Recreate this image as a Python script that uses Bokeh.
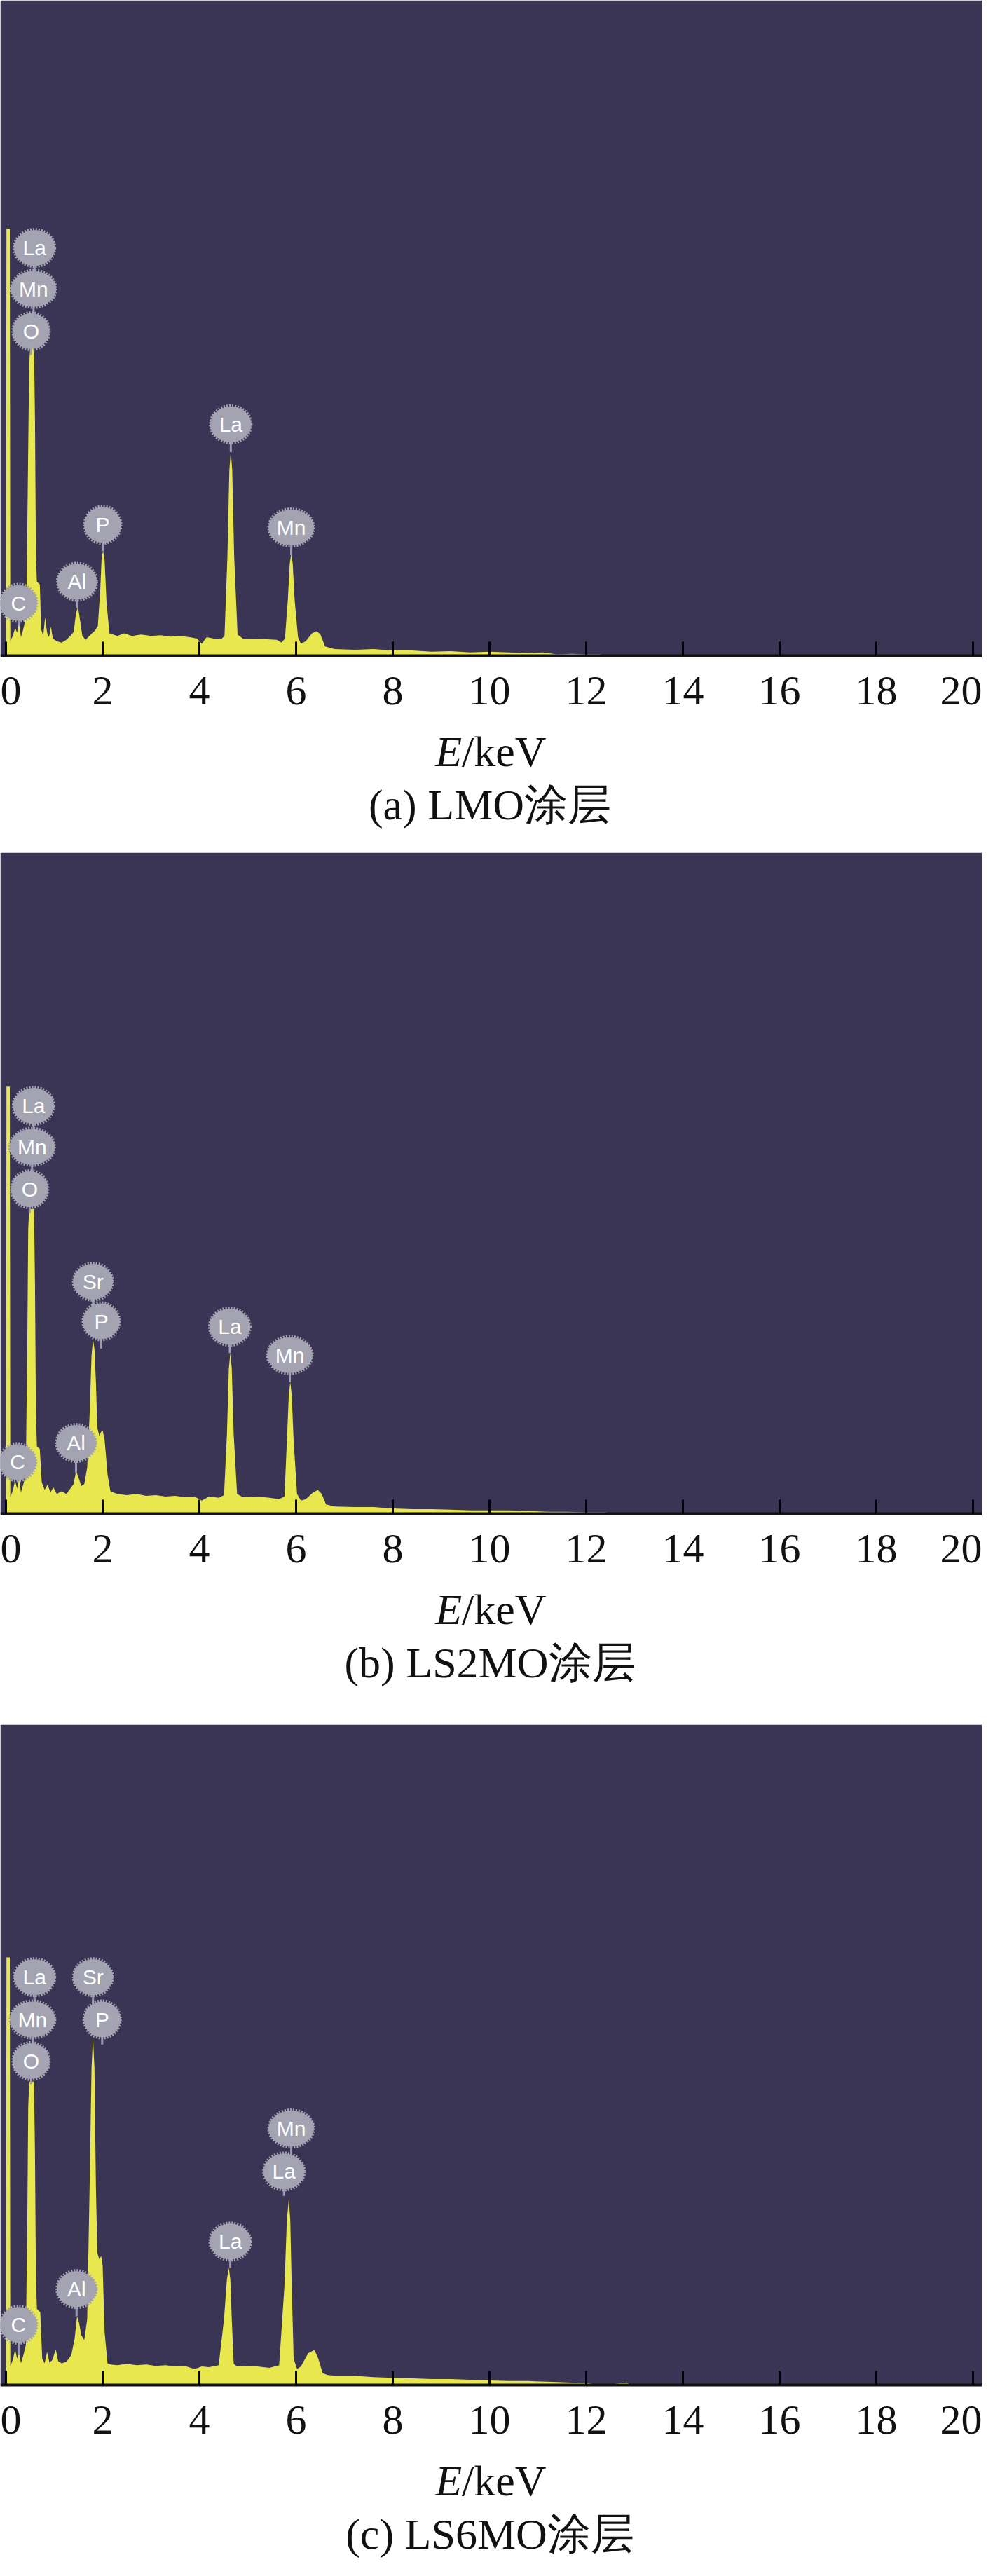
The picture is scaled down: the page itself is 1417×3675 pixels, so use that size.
from bokeh.plotting import figure
from bokeh.models import Range1d, FixedTicker, ColumnDataSource, BoxAnnotation
from bokeh.layouts import column
from bokeh.embed import file_html
from bokeh.resources import INLINE
from bokeh.core.properties import value

# ---------------- data ----------------
x_ticks = [0, 2, 4, 6, 8, 10, 12, 14, 16, 18, 20]

energy_a = [0.00, 0.01, 0.08, 0.09, 0.14, 0.19, 0.23, 0.27, 0.31, 0.35, 0.42, 0.45, 0.48, 0.50, 0.58, 0.60,
            0.62, 0.64, 0.70, 0.73, 0.77, 0.81, 0.85, 0.89, 0.93, 0.97, 1.05, 1.15, 1.25, 1.33, 1.40, 1.45,
            1.49, 1.53, 1.58, 1.65, 1.75, 1.84, 1.90, 1.95, 1.98, 2.01, 2.04, 2.08, 2.14, 2.30, 2.45, 2.60,
            2.80, 3.00, 3.20, 3.40, 3.60, 3.80, 3.95, 4.05, 4.15, 4.30, 4.45, 4.52, 4.58, 4.62, 4.65, 4.68,
            4.72, 4.79, 4.90, 5.10, 5.40, 5.60, 5.70, 5.77, 5.83, 5.87, 5.90, 5.93, 5.97, 6.04, 6.10, 6.20,
            6.33, 6.42, 6.50, 6.60, 6.80, 7.20, 7.60, 8.00, 8.40, 8.80, 9.20, 9.60, 10.00, 10.40, 10.80,
            11.10, 11.40, 11.70, 12.00, 12.30, 12.40, 20.50]
counts_a = [0, 646, 646, 22, 30, 42, 35, 52, 28, 38, 60, 250, 440, 466, 466, 360,
            150, 112, 108, 40, 30, 58, 35, 28, 44, 26, 22, 20, 24, 30, 36, 65,
            74, 55, 30, 24, 32, 38, 45, 100, 150, 158, 145, 80, 34, 30, 34, 30,
            32, 30, 31, 29, 30, 28, 26, 18, 28, 26, 25, 30, 150, 280, 310, 280,
            150, 32, 26, 26, 25, 24, 20, 26, 85, 140, 154, 140, 85, 28, 18, 22,
            34, 37, 33, 14, 10, 9, 10, 8, 8, 6, 7, 5, 6, 5, 4,
            5, 2, 3, 2, 2, 0, 0]

energy_b = [0.00, 0.01, 0.08, 0.09, 0.14, 0.19, 0.23, 0.27, 0.31, 0.36, 0.41, 0.44, 0.46, 0.48, 0.58, 0.60,
            0.62, 0.64, 0.70, 0.74, 0.80, 0.86, 0.92, 0.98, 1.05, 1.15, 1.25, 1.33, 1.40, 1.45, 1.50, 1.56,
            1.62, 1.68, 1.73, 1.77, 1.80, 1.83, 1.86, 1.89, 1.93, 1.97, 2.00, 2.04, 2.10, 2.16, 2.30, 2.50,
            2.70, 2.90, 3.10, 3.30, 3.50, 3.70, 3.90, 4.05, 4.20, 4.40, 4.51, 4.57, 4.61, 4.64, 4.67, 4.71,
            4.78, 4.90, 5.20, 5.45, 5.65, 5.76, 5.81, 5.85, 5.88, 5.91, 5.95, 6.02, 6.10, 6.20, 6.35, 6.45,
            6.53, 6.62, 6.80, 7.20, 7.60, 8.00, 8.40, 8.80, 9.20, 9.60, 10.00, 10.40, 10.80, 11.20, 11.60,
            12.00, 12.40, 12.60, 20.50]
counts_b = [0, 646, 646, 25, 35, 50, 38, 55, 32, 45, 60, 250, 430, 461, 461, 350,
            150, 102, 98, 48, 36, 44, 32, 40, 30, 34, 30, 38, 45, 65, 55, 42,
            45, 70, 150, 240, 263, 250, 200, 130, 118, 124, 126, 112, 60, 34, 30, 28,
            30, 27, 28, 26, 27, 25, 26, 20, 26, 24, 28, 120, 220, 243, 220, 120,
            30, 25, 26, 24, 22, 26, 110, 180, 199, 180, 110, 30, 20, 22, 32, 36,
            30, 14, 11, 10, 10, 8, 7, 7, 6, 5, 5, 5, 4, 3, 3,
            2, 2, 0, 0]

energy_c = [0.00, 0.01, 0.08, 0.09, 0.14, 0.19, 0.23, 0.27, 0.31, 0.36, 0.41, 0.44, 0.46, 0.48, 0.58, 0.60,
            0.62, 0.64, 0.71, 0.75, 0.80, 0.85, 0.90, 0.96, 1.03, 1.08, 1.15, 1.25, 1.35, 1.42, 1.47, 1.51,
            1.56, 1.62, 1.68, 1.73, 1.77, 1.80, 1.83, 1.86, 1.89, 1.93, 1.97, 2.00, 2.04, 2.10, 2.17, 2.30,
            2.50, 2.70, 2.90, 3.10, 3.30, 3.50, 3.70, 3.90, 4.05, 4.20, 4.40, 4.51, 4.57, 4.61, 4.64, 4.67,
            4.71, 4.78, 4.90, 5.20, 5.45, 5.65, 5.76, 5.81, 5.85, 5.88, 5.91, 5.95, 6.02, 6.10, 6.25, 6.38,
            6.46, 6.55, 6.65, 6.80, 7.20, 7.60, 8.00, 8.40, 8.80, 9.20, 9.60, 10.00, 10.40, 10.80, 11.20,
            11.60, 12.00, 12.30, 12.40, 12.85, 12.90, 12.95, 20.50]
counts_c = [0, 647, 647, 28, 38, 53, 40, 50, 33, 45, 60, 240, 420, 459, 459, 350,
            160, 115, 110, 40, 33, 50, 34, 38, 54, 36, 33, 35, 45, 70, 104, 95,
            75, 68, 100, 300, 480, 527, 480, 300, 200, 190, 195, 180, 80, 33, 31, 30,
            32, 30, 31, 29, 30, 28, 29, 24, 28, 27, 30, 100, 160, 177, 160, 100,
            32, 28, 29, 28, 26, 30, 150, 250, 281, 250, 150, 40, 24, 28, 48, 53,
            40, 18, 15, 14, 14, 12, 11, 10, 9, 9, 8, 7, 6, 6,
            5, 4, 3, 0, 0, 4, 0, 0]

labels_a_text = ["La", "Mn", "O", "C", "Al", "P", "La", "Mn"]
labels_a_x = [0.59, 0.57, 0.52, 0.26, 1.47, 2.00, 4.65, 5.90]
labels_a_y = [617, 555, 491, 80, 112, 198, 350, 194]
labels_a_stem = [555, 491, 455, 45, 72, 158, 308, 152]

labels_b_text = ["La", "Mn", "O", "C", "Al", "Sr", "P", "La", "Mn"]
labels_b_x = [0.57, 0.54, 0.49, 0.24, 1.45, 1.80, 1.97, 4.63, 5.87]
labels_b_y = [617, 555, 491, 78, 107, 351, 291, 283, 240]
labels_b_stem = [555, 491, 455, 48, 62, 291, 250, 243, 199]

labels_c_text = ["La", "Mn", "O", "C", "Al", "Sr", "P", "La", "Mn", "La"]
labels_c_x = [0.59, 0.55, 0.52, 0.26, 1.46, 1.80, 1.99, 4.64, 5.90, 5.75]
labels_c_y = [617, 553, 490, 91, 145, 617, 553, 217, 388, 323]
labels_c_stem = [553, 490, 455, 45, 104, 553, 515, 177, 323, 286]

captions = ["(a) LMO涂层", "(b) LS2MO涂层", "(c) LS6MO涂层"]
x_label_italic = "E"
x_label_rest = "/keV"

# ---------------- style ----------------
BG = "#3b3555"
YELLOW = "#e8e84e"
BUBBLE = "#a3a3b1"
STEM = "#9c9cb4"
SERIF = "Liberation Serif"
BUBBLE_W = {"La": 58, "Mn": 64, "O": 52, "C": 52, "Al": 56, "P": 52, "Sr": 56}

W = 1401
X_START, X_END = -0.116, 20.19
PX_PER_COUNT = 0.943


def make_panel(energy, counts, lt, lx, ly, ls, caption, height, frame_h):
    y_top = frame_h / PX_PER_COUNT
    y_bot = -(height - frame_h) / PX_PER_COUNT
    p = figure(width=W, height=height, output_backend="svg", toolbar_location=None,
               x_range=Range1d(X_START, X_END), y_range=Range1d(y_bot, y_top),
               y_axis_location=None, min_border=0)
    p.background_fill_color = "white"
    p.border_fill_color = "white"
    p.outline_line_color = None
    p.grid.visible = False

    p.add_layout(BoxAnnotation(bottom=0, fill_color=BG, fill_alpha=1.0, line_color=None,
                               level="underlay"))

    p.varea(x=energy, y1=0, y2=counts, fill_color=YELLOW)

    src = ColumnDataSource(dict(x=lx, y=ly, stem=ls, text=lt,
                                w=[BUBBLE_W[t] for t in lt]))
    p.segment(x0="x", y0="y", x1="x", y1="stem", source=src, line_color=STEM, line_width=3)
    p.ellipse(x="x", y="y", width="w", height=53, width_units="screen", height_units="screen",
              source=src, fill_color=None, line_color=BUBBLE, line_width=4, line_dash="2 2")
    p.ellipse(x="x", y="y", width="w", height=50, width_units="screen", height_units="screen",
              source=src, fill_color=BUBBLE, line_color=BUBBLE, line_width=1)
    p.text(x="x", y="y", text="text", source=src, text_font=value("Liberation Sans"),
           text_font_size="30px", text_color="white", text_align="center",
           text_baseline="middle")

    ax = p.xaxis[0]
    ax.fixed_location = 0
    ax.ticker = FixedTicker(ticks=x_ticks)
    ax.minor_tick_line_color = None
    ax.major_tick_in = 20
    ax.major_tick_out = 0
    ax.major_tick_line_width = 3
    ax.major_tick_line_color = "black"
    ax.axis_line_width = 4
    ax.axis_line_color = "#111111"
    ax.major_label_text_font = SERIF
    ax.major_label_text_font_size = "60px"
    ax.major_label_text_color = "#111111"
    ax.major_label_standoff = 30

    x_mid = (X_START + X_END) / 2
    y_axis_label = -136 / PX_PER_COUNT
    y_caption = -212 / PX_PER_COUNT
    p.text(x=[x_mid], y=[y_axis_label], text=[x_label_italic], x_offset=-42,
           text_font=value(SERIF), text_font_style="italic", text_font_size="62px",
           text_align="right", text_baseline="middle", text_color="#111111")
    p.text(x=[x_mid], y=[y_axis_label], text=[x_label_rest], x_offset=-42,
           text_font=value(SERIF), text_font_size="62px",
           text_align="left", text_baseline="middle", text_color="#111111")
    p.text(x=[x_mid], y=[y_caption], text=[caption], x_offset=-2,
           text_font=value(SERIF), text_font_size="62px",
           text_align="center", text_baseline="middle", text_color="#111111")
    return p


pa = make_panel(energy_a, counts_a, labels_a_text, labels_a_x, labels_a_y, labels_a_stem,
                captions[0], 1216, 935)
pb = make_panel(energy_b, counts_b, labels_b_text, labels_b_x, labels_b_y, labels_b_stem,
                captions[1], 1244, 943)
pc = make_panel(energy_c, counts_c, labels_c_text, labels_c_x, labels_c_y, labels_c_stem,
                captions[2], 1199, 942)

layout = column(pa, pb, pc, spacing=0)
open("out.html", "w").write(file_html(layout, INLINE))
